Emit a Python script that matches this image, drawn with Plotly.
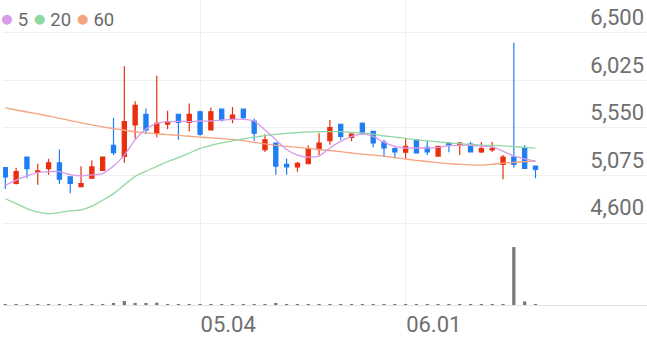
import plotly.graph_objects as go

# ---- data ----
idx = list(range(50))
opens = [5153, 4995, 5258, 5110, 5143, 5202, 5061, 4963, 5048, 5126,
         5376, 5264, 5579, 5684, 5497, 5588, 5684, 5605, 5710, 5529,
         5736, 5638, 5736, 5618, 5333, 5399, 5185, 5160, 5192, 5333,
         5421, 5585, 5455, 5595, 5514, 5405, 5343, 5307, 5431, 5356,
         5268, 5399, 5376, 5389, 5310, 5330, 5185, 5258, 5343, 5169]
highs = [5160, 5153, 5260, 5192, 5241, 5333, 5061, 5166, 5225, 5262,
         5651, 6163, 5815, 5743, 6070, 5720, 5684, 5792, 5720, 5750,
         5740, 5759, 5740, 5644, 5487, 5400, 5244, 5209, 5376, 5497,
         5628, 5590, 5497, 5605, 5520, 5431, 5356, 5448, 5435, 5421,
         5370, 5400, 5408, 5408, 5408, 5408, 5278, 6399, 5376, 5170]
lows = [4939, 4986, 5048, 4983, 5081, 4989, 4897, 4963, 5045, 5120,
        5278, 5202, 5440, 5487, 5455, 5536, 5431, 5514, 5470, 5529,
        5612, 5595, 5628, 5421, 5310, 5081, 5081, 5113, 5190, 5274,
        5382, 5431, 5415, 5480, 5356, 5258, 5244, 5244, 5295, 5278,
        5265, 5307, 5278, 5310, 5300, 5310, 5038, 5153, 5140, 5048]
closes = [5061, 5113, 5143, 5120, 5202, 5038, 4995, 4995, 5160, 5258,
          5303, 5612, 5775, 5529, 5595, 5612, 5605, 5684, 5487, 5710,
          5628, 5677, 5651, 5497, 5431, 5169, 5160, 5195, 5343, 5399,
          5553, 5464, 5487, 5497, 5399, 5349, 5310, 5366, 5300, 5310,
          5366, 5376, 5399, 5310, 5343, 5343, 5258, 5185, 5146, 5136]
volumes = [18000, 20000, 19000, 21000, 18000, 17000, 20000, 19000, 21000, 20000,
           22000, 85000, 30000, 22000, 50000, 20000, 19000, 20000, 18000, 20000,
           19000, 20000, 18000, 20000, 19000, 28000, 20000, 19000, 20000, 18000,
           20000, 19000, 20000, 18000, 20000, 19000, 20000, 18000, 20000, 19000,
           20000, 18000, 20000, 19000, 20000, 18000, 20000, 1220000, 75000, 20000]
ma5 = [4976, 5028, 5071, 5104, 5113, 5113, 5084, 5071, 5081, 5094,
       5169, 5278, 5431, 5539, 5595, 5612, 5615, 5612, 5618, 5618,
       5628, 5635, 5635, 5618, 5529, 5431, 5333, 5278, 5258, 5268,
       5349, 5415, 5464, 5490, 5464, 5405, 5366, 5349, 5349, 5349,
       5356, 5372, 5376, 5376, 5366, 5359, 5317, 5268, 5241, 5219]
ma20 = [4843, 4794, 4745, 4710, 4695, 4705, 4722, 4731, 4769, 4828,
        4894, 4981, 5066, 5118, 5165, 5214, 5253, 5297, 5345, 5374,
        5399, 5421, 5440, 5458, 5473, 5484, 5494, 5503, 5509, 5511,
        5513, 5512, 5504, 5499, 5487, 5469, 5458, 5445, 5431, 5420,
        5410, 5400, 5392, 5384, 5377, 5374, 5370, 5363, 5355, 5347]
ma60 = [5750, 5728, 5708, 5689, 5667, 5645, 5623, 5600, 5580, 5560,
        5542, 5526, 5511, 5499, 5490, 5482, 5475, 5466, 5457, 5450,
        5442, 5434, 5422, 5406, 5390, 5376, 5366, 5356, 5345, 5334,
        5324, 5313, 5299, 5288, 5278, 5267, 5253, 5239, 5225, 5214,
        5203, 5193, 5186, 5181, 5179, 5187, 5197, 5205, 5213, 5219]
price_ticks = [4600, 5075, 5550, 6025, 6500]
date_tick_pos = [18, 37]
date_tick_labels = ["05.04", "06.01"]
ma_names = ["5", "20", "60"]

# ---- styles ----
RED = "#e92f0f"
BLUE = "#1f7ef2"
MA_COLORS = ["#d69be9", "#8fd8a1", "#f6a47f"]
TXT = "#707070"
GRID = "#efefef"

fig = go.Figure()

fig.add_trace(go.Bar(x=idx, y=volumes, marker_color="#777777", marker_line_width=0,
                     width=0.3, yaxis="y2", showlegend=False, hoverinfo="skip"))

for vals, col in zip([ma60, ma20, ma5], [MA_COLORS[2], MA_COLORS[1], MA_COLORS[0]]):
    fig.add_trace(go.Scatter(x=idx, y=vals, mode="lines",
                             line=dict(color=col, width=1.3, shape="spline", smoothing=0.6),
                             showlegend=False, hoverinfo="skip"))

fig.add_trace(go.Candlestick(
    x=idx, open=opens, high=highs, low=lows, close=closes,
    increasing=dict(line=dict(color=RED, width=1.2), fillcolor=RED),
    decreasing=dict(line=dict(color=BLUE, width=1.2), fillcolor=BLUE),
    showlegend=False, hoverinfo="skip"))

legend_html = " ".join(
    f"<span style='color:{c};font-size:23px'>●</span>\u2009{n}" for n, c in zip(ma_names, MA_COLORS))
fig.add_annotation(text=legend_html, xref="paper", yref="paper", x=0, y=1,
                   xanchor="left", yanchor="top", yshift=-3, xshift=-5, showarrow=False,
                   font=dict(size=18.5, color="#6a6a6a", family="Roboto"))

px_per_idx = 10.82
plot_w = 644
x0 = -2.3 / px_per_idx
vol_top = max(volumes) * 309 / 61

fig.update_layout(
    width=647, height=337,
    margin=dict(l=3, r=0, t=0, b=28),
    paper_bgcolor="white", plot_bgcolor="white",
    font=dict(family="Roboto", color=TXT),
    boxgap=0.45,
    showlegend=False,
    xaxis=dict(range=[x0, x0 + plot_w / px_per_idx], tickvals=date_tick_pos,
               ticktext=date_tick_labels, ticklabelposition="outside right",
               showgrid=True, gridcolor=GRID, gridwidth=1, zeroline=False,
               showline=True, linecolor="#e4e4e4", linewidth=1, ticks="",
               tickfont=dict(size=22, color=TXT), rangeslider=dict(visible=False)),
    yaxis=dict(range=[3783, 6825], tickvals=price_ticks, tickformat=",",
               side="right", ticklabelposition="inside top", ticks="",
               showgrid=True, gridcolor=GRID, gridwidth=1, zeroline=False,
               tickfont=dict(size=22, color=TXT)),
    yaxis2=dict(range=[0, vol_top * 1.04], overlaying="y", visible=False,
                showgrid=False, zeroline=False),
)

fig.write_html("out.html")
